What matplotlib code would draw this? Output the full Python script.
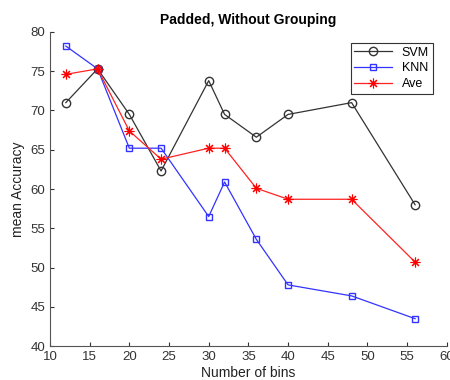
import numpy as np
from matplotlib import pyplot as plt

bins = [12, 16, 20, 24, 30, 32, 36, 40, 48, 56]
svm = [71.0, 75.3, 69.5, 62.3, 73.8, 69.5, 66.6, 69.5, 71.0, 58.0]
knn = [78.2, 75.3, 65.2, 65.2, 56.5, 60.9, 53.6, 47.8, 46.4, 43.5]
ave = [74.6, 75.3, 67.4, 63.8, 65.2, 65.2, 60.1, 58.7, 58.7, 50.7]

plt.rcParams['font.family'] = ['Liberation Sans', 'DejaVu Sans']

fig = plt.figure(figsize=(4.5, 3.8), dpi=100)
ax = fig.add_axes([0.111, 0.089, 0.882, 0.827])

# MATLAB-ish markers
ax.plot(bins, svm, '-o', color='#333333', lw=0.9, ms=6, mfc='none', mec='#333333', label='SVM')
ax.plot(bins, knn, '-s', color='#3333ff', lw=0.9, ms=5, mfc='none', mec='#3333ff', label='KNN')
ax.plot(bins, ave, '-', marker=(8, 2, 0), color='#ff2222', lw=0.9, ms=7, mew=0.8, mec='#ff0000', label='Ave')

ax.set_xlim(10, 60)
ax.set_ylim(40, 80)
ax.set_xticks(range(10, 61, 5))
ax.set_yticks(range(40, 81, 5))
ax.tick_params(labelsize=9.5, colors='#333333', direction='in', length=3)
for s in ['top', 'right']:
    ax.spines[s].set_visible(False)
for s in ['left', 'bottom']:
    ax.spines[s].set_color('#555555')

ax.set_xlabel('Number of bins', fontsize=10, color='#222222', labelpad=2)
ax.set_ylabel('mean Accuracy', fontsize=10, color='#222222', labelpad=4)
ax.set_title('Padded, Without Grouping', fontsize=10, fontweight='bold', pad=6)

leg = ax.legend(loc='upper right', bbox_to_anchor=(0.98, 0.985), fontsize=9, fancybox=False,
                edgecolor='#333333', framealpha=1, handlelength=3, borderpad=0.3, labelspacing=0.3)
leg.get_frame().set_linewidth(0.8)

plt.savefig('out.png', dpi=100)
